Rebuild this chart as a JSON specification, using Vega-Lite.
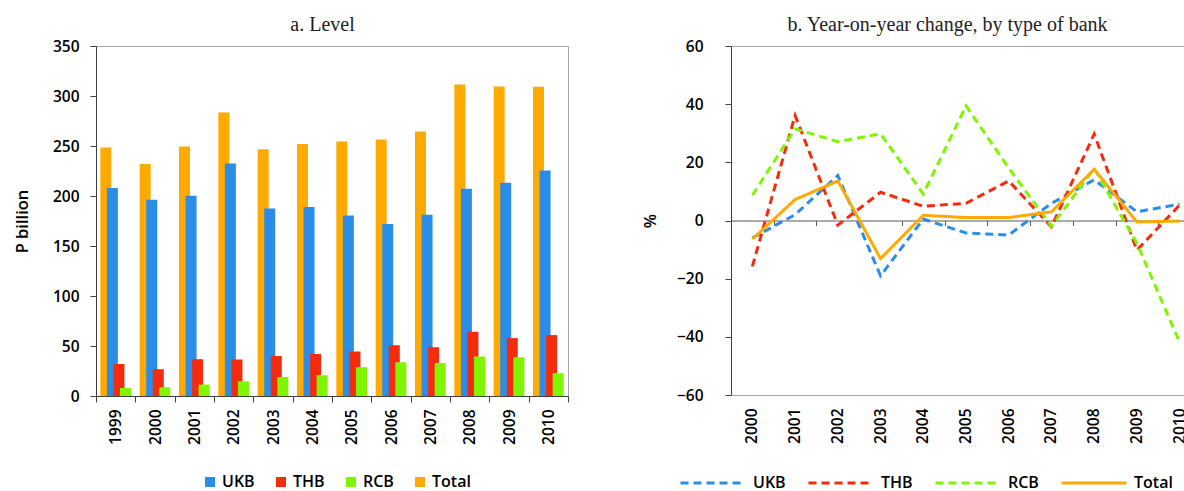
{
  "$schema": "https://vega.github.io/schema/vega-lite/v6.json",
  "padding": {"left": 13, "top": 14, "right": 0, "bottom": 0},
  "spacing": 72,
  "config": {
    "font": "Open Sans",
    "view": {"stroke": "#a6a6a6", "strokeWidth": 1},
    "axis": {
      "labelFont": "Open Sans", "labelFontWeight": 600, "labelFontSize": 15.5, "labelColor": "#000",
      "titleFont": "Open Sans", "titleFontWeight": 600, "titleFontSize": 16.5, "titleColor": "#000",
      "domainColor": "#404040", "tickColor": "#404040", "tickSize": 6, "grid": false
    },
    "title": {"font": "Liberation Serif", "fontSize": 20, "fontWeight": "normal", "color": "#222", "anchor": "middle"},
    "legend": {"labelFont": "Open Sans", "labelFontWeight": 600, "labelFontSize": 16, "labelColor": "#000", "padding": 0}
  },
  "datasets": {
    "level": [
      {"year": "1999", "series": "Total", "value": 248.4},
      {"year": "2000", "series": "Total", "value": 232},
      {"year": "2001", "series": "Total", "value": 249.5},
      {"year": "2002", "series": "Total", "value": 283.5},
      {"year": "2003", "series": "Total", "value": 246.7},
      {"year": "2004", "series": "Total", "value": 252},
      {"year": "2005", "series": "Total", "value": 254.5},
      {"year": "2006", "series": "Total", "value": 256.5},
      {"year": "2007", "series": "Total", "value": 264.5},
      {"year": "2008", "series": "Total", "value": 311.6},
      {"year": "2009", "series": "Total", "value": 309.6},
      {"year": "2010", "series": "Total", "value": 309.3},
      {"year": "1999", "series": "UKB", "value": 208},
      {"year": "2000", "series": "UKB", "value": 196.3},
      {"year": "2001", "series": "UKB", "value": 200.3},
      {"year": "2002", "series": "UKB", "value": 232.4},
      {"year": "2003", "series": "UKB", "value": 187.6},
      {"year": "2004", "series": "UKB", "value": 189},
      {"year": "2005", "series": "UKB", "value": 180.5},
      {"year": "2006", "series": "UKB", "value": 171.9},
      {"year": "2007", "series": "UKB", "value": 181.2},
      {"year": "2008", "series": "UKB", "value": 207.3},
      {"year": "2009", "series": "UKB", "value": 213.3},
      {"year": "2010", "series": "UKB", "value": 225.4},
      {"year": "1999", "series": "THB", "value": 32},
      {"year": "2000", "series": "THB", "value": 26.8},
      {"year": "2001", "series": "THB", "value": 36.8},
      {"year": "2002", "series": "THB", "value": 36.5},
      {"year": "2003", "series": "THB", "value": 40},
      {"year": "2004", "series": "THB", "value": 42},
      {"year": "2005", "series": "THB", "value": 44.5},
      {"year": "2006", "series": "THB", "value": 50.8},
      {"year": "2007", "series": "THB", "value": 48.8},
      {"year": "2008", "series": "THB", "value": 64.2},
      {"year": "2009", "series": "THB", "value": 57.9},
      {"year": "2010", "series": "THB", "value": 60.9},
      {"year": "1999", "series": "RCB", "value": 8},
      {"year": "2000", "series": "RCB", "value": 8.7},
      {"year": "2001", "series": "RCB", "value": 11.4},
      {"year": "2002", "series": "RCB", "value": 14.7},
      {"year": "2003", "series": "RCB", "value": 19},
      {"year": "2004", "series": "RCB", "value": 20.8},
      {"year": "2005", "series": "RCB", "value": 28.8},
      {"year": "2006", "series": "RCB", "value": 33.8},
      {"year": "2007", "series": "RCB", "value": 33.1},
      {"year": "2008", "series": "RCB", "value": 39.5},
      {"year": "2009", "series": "RCB", "value": 38.8},
      {"year": "2010", "series": "RCB", "value": 22.8}
    ],
    "change": [
      {"year": "2000", "series": "UKB", "value": -6},
      {"year": "2001", "series": "UKB", "value": 2},
      {"year": "2002", "series": "UKB", "value": 15.5},
      {"year": "2003", "series": "UKB", "value": -19},
      {"year": "2004", "series": "UKB", "value": 0.5},
      {"year": "2005", "series": "UKB", "value": -4.3},
      {"year": "2006", "series": "UKB", "value": -5},
      {"year": "2007", "series": "UKB", "value": 5.9},
      {"year": "2008", "series": "UKB", "value": 14},
      {"year": "2009", "series": "UKB", "value": 3},
      {"year": "2010", "series": "UKB", "value": 5.6},
      {"year": "2000", "series": "THB", "value": -15.8},
      {"year": "2001", "series": "THB", "value": 36.1},
      {"year": "2002", "series": "THB", "value": -1.6},
      {"year": "2003", "series": "THB", "value": 9.7},
      {"year": "2004", "series": "THB", "value": 4.9},
      {"year": "2005", "series": "THB", "value": 5.9},
      {"year": "2006", "series": "THB", "value": 13.6},
      {"year": "2007", "series": "THB", "value": -2.2},
      {"year": "2008", "series": "THB", "value": 29.7},
      {"year": "2009", "series": "THB", "value": -10.2},
      {"year": "2010", "series": "THB", "value": 5.3},
      {"year": "2000", "series": "RCB", "value": 8.7},
      {"year": "2001", "series": "RCB", "value": 31.5},
      {"year": "2002", "series": "RCB", "value": 27.1},
      {"year": "2003", "series": "RCB", "value": 29.8},
      {"year": "2004", "series": "RCB", "value": 9.1},
      {"year": "2005", "series": "RCB", "value": 39.4},
      {"year": "2006", "series": "RCB", "value": 18},
      {"year": "2007", "series": "RCB", "value": -2},
      {"year": "2008", "series": "RCB", "value": 17.9},
      {"year": "2009", "series": "RCB", "value": -7.9},
      {"year": "2010", "series": "RCB", "value": -41.9},
      {"year": "2000", "series": "Total", "value": -6.4},
      {"year": "2001", "series": "Total", "value": 7.2},
      {"year": "2002", "series": "Total", "value": 13.6},
      {"year": "2003", "series": "Total", "value": -13.1},
      {"year": "2004", "series": "Total", "value": 1.8},
      {"year": "2005", "series": "Total", "value": 1},
      {"year": "2006", "series": "Total", "value": 1},
      {"year": "2007", "series": "Total", "value": 3},
      {"year": "2008", "series": "Total", "value": 17.6},
      {"year": "2009", "series": "Total", "value": -0.5},
      {"year": "2010", "series": "Total", "value": -0.2}
    ]
  },
  "resolve": {
    "scale": {"color": "independent", "strokeDash": "independent", "strokeWidth": "independent"},
    "legend": {"color": "independent", "strokeDash": "independent", "strokeWidth": "independent"}
  },
  "hconcat": [
    {
      "width": 472,
      "height": 350,
      "title": {"text": "a. Level", "dx": -9.5, "offset": 4},
      "data": {"name": "level"},
      "mark": {"type": "bar", "width": 11},
      "encoding": {
        "x": {
          "field": "year", "type": "ordinal",
          "scale": {"paddingInner": 0, "paddingOuter": 0},
          "axis": {"title": null, "orient": "bottom", "labelAngle": -90, "tickBand": "extent", "labelPadding": 7}
        },
        "xOffset": {
          "field": "series", "type": "nominal",
          "scale": {"domain": ["Total", "UKB", "THB", "RCB"], "paddingInner": 0, "paddingOuter": 2.09}
        },
        "y": {
          "field": "value", "type": "quantitative",
          "scale": {"domain": [0, 350], "nice": false},
          "axis": {"title": "P billion", "values": [0, 50, 100, 150, 200, 250, 300, 350], "labelPadding": 11, "titlePadding": 22}
        },
        "color": {
          "field": "series", "type": "nominal",
          "scale": {"domain": ["UKB", "THB", "RCB", "Total"], "range": ["#2A8DE8", "#F52B0E", "#80F500", "#FFAA00"]},
          "legend": {
            "title": null, "orient": "none", "legendX": 106, "legendY": 428,
            "direction": "horizontal", "columns": 4, "symbolType": "square",
            "symbolSize": 100, "labelOffset": 4, "columnPadding": 18, "symbolStrokeWidth": 0
          }
        }
      }
    },
    {
      "width": 470,
      "height": 349,
      "title": {"text": "b. Year-on-year change, by type of bank", "dx": -18.5, "offset": 4},
      "data": {"name": "change"},
      "layer": [
        {
          "mark": {"type": "line", "opacity": 0},
          "encoding": {
            "x": {
              "field": "year", "type": "ordinal",
              "scale": {"paddingInner": 0, "paddingOuter": 0},
              "axis": {"title": null, "orient": "bottom", "labels": false, "offset": -174.5, "tickBand": "extent", "tickSize": 5, "domainColor": "#595959", "tickColor": "#595959"}
            },
            "y": {
              "field": "value", "type": "quantitative",
              "scale": {"domain": [-60, 60], "nice": false},
              "axis": {"title": "%", "values": [-60, -40, -20, 0, 20, 40, 60], "labelPadding": 22, "titlePadding": 18}
            },
            "detail": {"field": "series"}
          }
        },
        {
          "mark": {"type": "line", "strokeCap": "butt", "strokeJoin": "miter"},
          "encoding": {
            "x": {
              "field": "year", "type": "ordinal",
              "axis": {"title": null, "orient": "bottom", "labelAngle": -90, "domain": false, "ticks": false, "labelPadding": 13}
            },
            "y": {"field": "value", "type": "quantitative"},
            "color": {
              "field": "series", "type": "nominal",
              "scale": {"domain": ["UKB", "THB", "RCB", "Total"], "range": ["#2A8DE8", "#F52B0E", "#80F500", "#FFAA00"]},
              "legend": {
                "title": null, "orient": "none", "legendX": -52, "legendY": 403,
                "direction": "horizontal", "columns": 4, "symbolType": "stroke",
                "symbolSize": 4225, "labelOffset": 6, "columnPadding": 16
              }
            },
            "strokeDash": {
              "field": "series", "type": "nominal",
              "scale": {"domain": ["UKB", "THB", "RCB", "Total"], "range": [[8, 5], [8, 5], [8, 5], [1, 0]]},
              "legend": {
                "title": null, "orient": "none", "legendX": -52, "legendY": 403,
                "direction": "horizontal", "columns": 4, "symbolType": "stroke",
                "symbolSize": 4225, "labelOffset": 6, "columnPadding": 16
              }
            },
            "strokeWidth": {
              "field": "series", "type": "nominal",
              "scale": {"domain": ["UKB", "THB", "RCB", "Total"], "range": [3, 3, 3, 5]},
              "legend": {
                "title": null, "orient": "none", "legendX": -52, "legendY": 403,
                "direction": "horizontal", "columns": 4, "symbolType": "stroke",
                "symbolSize": 4225, "labelOffset": 6, "columnPadding": 16
              }
            }
          }
        }
      ],
      "resolve": {"axis": {"x": "independent"}}
    }
  ]
}
